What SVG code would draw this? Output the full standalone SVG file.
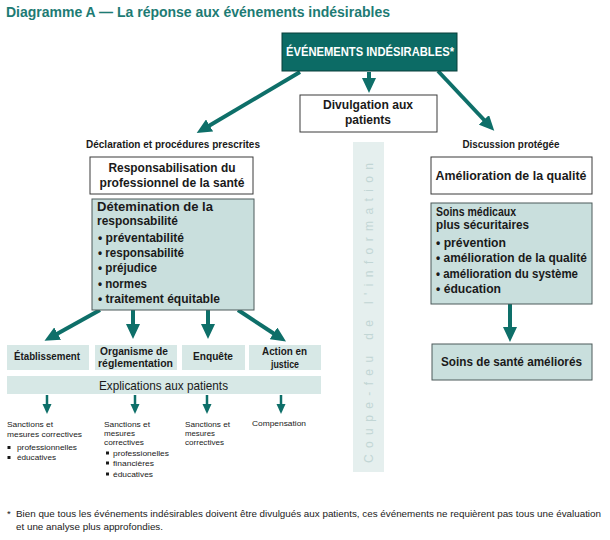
<svg xmlns="http://www.w3.org/2000/svg" width="610" height="540" viewBox="0 0 610 540">
<style>
text{font-family:"Liberation Sans",Arial,sans-serif;fill:#1a1a1a}
.b{font-weight:bold}
.t13{font-size:13px}
.t12{font-size:12px}
.t11{font-size:11px}
.t10{font-size:10px}
.t9{font-size:9.5px}
.t8{font-size:8px}
.c{text-anchor:middle}
.wbox{fill:#fff;stroke:#3a3a3a;stroke-width:1}
.lbox{fill:#c9dfdd;stroke:#4d5a5a;stroke-width:1}
.pbox{fill:#d7e8e6}
.arr{stroke:#0e6f69;stroke-width:4;fill:none}
.arr2{stroke:#0e6f69;stroke-width:2.5;fill:none}
</style>
<defs>
<marker id="ah" markerUnits="userSpaceOnUse" markerWidth="16" markerHeight="14" refX="3" refY="7" orient="auto">
<path d="M0,0 L15,7 L0,14 z" fill="#0e6f69"/>
</marker>
<marker id="ah2" markerUnits="userSpaceOnUse" markerWidth="10" markerHeight="10" refX="2" refY="4.5" orient="auto">
<path d="M0,0 L10,4.5 L0,9 z" fill="#0e6f69"/>
</marker>
</defs>
<rect width="610" height="540" fill="#fff"/>
<text x="6" y="17" class="b" font-size="14" style="fill:#1d7b74" textLength="384" lengthAdjust="spacingAndGlyphs">Diagramme A — La réponse aux événements indésirables</text>

<g id="band">
<rect x="353" y="142" width="31" height="330" fill="#e5efee"/>
<text transform="translate(373,463) rotate(-90)" font-size="12" style="fill:#c2d6d5" textLength="300" lengthAdjust="spacing">Coupe-feu de l'information</text>
</g>

<g id="connectors">
<line class="arr" x1="300" y1="72" x2="207" y2="127" marker-end="url(#ah)"/>
<line class="arr" x1="369" y1="72" x2="369" y2="81" marker-end="url(#ah)"/>
<line class="arr" x1="438" y1="71" x2="486" y2="122" marker-end="url(#ah)"/>
<line class="arr" x1="100" y1="310" x2="55" y2="335" marker-end="url(#ah)"/>
<line class="arr" x1="133" y1="310" x2="133" y2="327" marker-end="url(#ah)"/>
<line class="arr" x1="208" y1="310" x2="208" y2="327" marker-end="url(#ah)"/>
<line class="arr" x1="238" y1="310" x2="276" y2="335" marker-end="url(#ah)"/>
<line class="arr" x1="510" y1="304" x2="510" y2="330" marker-end="url(#ah)"/>
<line class="arr2" x1="47" y1="395" x2="47" y2="406" marker-end="url(#ah2)"/>
<line class="arr2" x1="135" y1="395" x2="135" y2="406" marker-end="url(#ah2)"/>
<line class="arr2" x1="207" y1="395" x2="207" y2="406" marker-end="url(#ah2)"/>
<line class="arr2" x1="281" y1="395" x2="281" y2="406" marker-end="url(#ah2)"/>
</g>

<g id="evenements">
<rect x="282" y="33" width="175" height="38" fill="#0c6b65" stroke="#083f3b" stroke-width="1"/>
<text x="370" y="56" class="b t13 c" style="fill:#fff" textLength="168" lengthAdjust="spacingAndGlyphs">ÉVÉNEMENTS INDÉSIRABLES*</text>
</g>

<g id="divulgation">
<rect x="300" y="95" width="137" height="37" class="wbox"/>
<text x="368" y="109" class="b t12 c" textLength="90" lengthAdjust="spacingAndGlyphs">Divulgation aux</text>
<text x="368" y="124" class="b t12 c" textLength="46" lengthAdjust="spacingAndGlyphs">patients</text>
</g>

<g id="declaration">
<text x="173" y="148" class="b t10 c" textLength="174" lengthAdjust="spacingAndGlyphs">Déclaration et procédures prescrites</text>
</g>

<g id="responsabilisation">
<rect x="90" y="157" width="163" height="37" class="wbox"/>
<text x="172" y="172" class="b t13 c" textLength="127" lengthAdjust="spacingAndGlyphs">Responsabilisation du</text>
<text x="172" y="187" class="b t13 c" textLength="145" lengthAdjust="spacingAndGlyphs">professionnel de la santé</text>
</g>

<g id="determination">
<rect x="92" y="199" width="162" height="111" class="lbox"/>
<text x="97" y="211" class="b t13" textLength="116" lengthAdjust="spacingAndGlyphs">Détemination de la</text>
<text x="97" y="225" class="b t13" textLength="81" lengthAdjust="spacingAndGlyphs">responsabilité</text>
<text x="98" y="242" class="b t12" textLength="86" lengthAdjust="spacingAndGlyphs">• préventabilité</text>
<text x="98" y="257" class="b t12" textLength="86" lengthAdjust="spacingAndGlyphs">• responsabilité</text>
<text x="98" y="272" class="b t12" textLength="59" lengthAdjust="spacingAndGlyphs">• préjudice</text>
<text x="98" y="288" class="b t12" textLength="49" lengthAdjust="spacingAndGlyphs">• normes</text>
<text x="98" y="303" class="b t12" textLength="122" lengthAdjust="spacingAndGlyphs">• traitement équitable</text>
</g>

<g id="discussion">
<text x="511" y="148" class="b t10 c" textLength="97" lengthAdjust="spacingAndGlyphs">Discussion protégée</text>
</g>

<g id="amelioration">
<rect x="431" y="157" width="161" height="37" class="wbox"/>
<text x="511" y="180" class="b t13 c" textLength="151" lengthAdjust="spacingAndGlyphs">Amélioration de la qualité</text>
</g>

<g id="soins-medicaux">
<rect x="431" y="203" width="161" height="101" class="lbox"/>
<text x="436" y="216" class="b t12" textLength="80" lengthAdjust="spacingAndGlyphs">Soins médicaux</text>
<text x="436" y="229" class="b t12" textLength="93" lengthAdjust="spacingAndGlyphs">plus sécuritaires</text>
<text x="436" y="247" class="b t12" textLength="70" lengthAdjust="spacingAndGlyphs">• prévention</text>
<text x="436" y="262" class="b t12" textLength="151" lengthAdjust="spacingAndGlyphs">• amélioration de la qualité</text>
<text x="436" y="278" class="b t12" textLength="142" lengthAdjust="spacingAndGlyphs">• amélioration du système</text>
<text x="436" y="293" class="b t12" textLength="65" lengthAdjust="spacingAndGlyphs">• éducation</text>
</g>

<g id="soins-sante">
<rect x="432" y="344" width="160" height="36" class="lbox"/>
<text x="511.5" y="366" class="b t13 c" textLength="141" lengthAdjust="spacingAndGlyphs">Soins de santé améliorés</text>
</g>

<g id="etablissement">
<rect x="7" y="345" width="82" height="25" class="pbox"/>
<text x="47" y="360" class="b t11 c" textLength="66" lengthAdjust="spacingAndGlyphs">Établissement</text>
</g>
<g id="organisme">
<rect x="95" y="345" width="82" height="25" class="pbox"/>
<text x="134" y="355" class="b t11 c" textLength="68" lengthAdjust="spacingAndGlyphs">Organisme de</text>
<text x="135.5" y="367" class="b t11 c" textLength="75" lengthAdjust="spacingAndGlyphs">réglementation</text>
</g>
<g id="enquete">
<rect x="182" y="345" width="63" height="25" class="pbox"/>
<text x="213" y="360" class="b t11 c" textLength="40" lengthAdjust="spacingAndGlyphs">Enquête</text>
</g>
<g id="action">
<rect x="249" y="345" width="72" height="25" class="pbox"/>
<text x="284.5" y="355" class="b t11 c" textLength="45" lengthAdjust="spacingAndGlyphs">Action en</text>
<text x="285" y="367.5" class="b t11 c" textLength="28" lengthAdjust="spacingAndGlyphs">justice</text>
</g>
<g id="explications">
<rect x="7" y="376" width="314" height="18" class="pbox"/>
<text x="163.5" y="389.5" class="t13 c" textLength="129" lengthAdjust="spacingAndGlyphs">Explications aux patients</text>
</g>

<g id="res-etablissement">
<text x="7" y="427" class="t8" textLength="46" lengthAdjust="spacingAndGlyphs">Sanctions et</text>
<text x="7" y="437" class="t8" textLength="75" lengthAdjust="spacingAndGlyphs">mesures correctives</text>
<rect x="7.5" y="446" width="3" height="3" fill="#1a1a1a"/>
<text x="17" y="450" class="t8" textLength="60" lengthAdjust="spacingAndGlyphs">professionnelles</text>
<rect x="7.5" y="456" width="3" height="3" fill="#1a1a1a"/>
<text x="17" y="460" class="t8" textLength="39" lengthAdjust="spacingAndGlyphs">éducatives</text>
</g>
<g id="res-organisme">
<text x="104" y="427" class="t8" textLength="46" lengthAdjust="spacingAndGlyphs">Sanctions et</text>
<text x="104" y="436" class="t8" textLength="31" lengthAdjust="spacingAndGlyphs">mesures</text>
<text x="104" y="445" class="t8" textLength="40" lengthAdjust="spacingAndGlyphs">correctives</text>
<rect x="106" y="451.5" width="3" height="3" fill="#1a1a1a"/>
<text x="113" y="456" class="t8" textLength="56" lengthAdjust="spacingAndGlyphs">professionelles</text>
<rect x="106" y="461.5" width="3" height="3" fill="#1a1a1a"/>
<text x="113" y="466" class="t8" textLength="41" lengthAdjust="spacingAndGlyphs">financières</text>
<rect x="106" y="472.5" width="3" height="3" fill="#1a1a1a"/>
<text x="113" y="477" class="t8" textLength="40" lengthAdjust="spacingAndGlyphs">éducatives</text>
</g>
<g id="res-enquete">
<text x="185" y="427" class="t8" textLength="45" lengthAdjust="spacingAndGlyphs">Sanctions et</text>
<text x="185" y="436" class="t8" textLength="30" lengthAdjust="spacingAndGlyphs">mesures</text>
<text x="185" y="445" class="t8" textLength="39" lengthAdjust="spacingAndGlyphs">correctives</text>
</g>
<g id="res-action">
<text x="252" y="426" class="t8" textLength="54" lengthAdjust="spacingAndGlyphs">Compensation</text>
</g>

<g id="footnote">
<text x="7" y="517" class="t9">*</text>
<text x="16" y="517" class="t9" textLength="585" lengthAdjust="spacingAndGlyphs">Bien que tous les événements indésirables doivent être divulgués aux patients, ces événements ne requièrent pas tous une évaluation</text>
<text x="16" y="530" class="t9" textLength="147" lengthAdjust="spacingAndGlyphs">et une analyse plus approfondies.</text>
</g>
</svg>
